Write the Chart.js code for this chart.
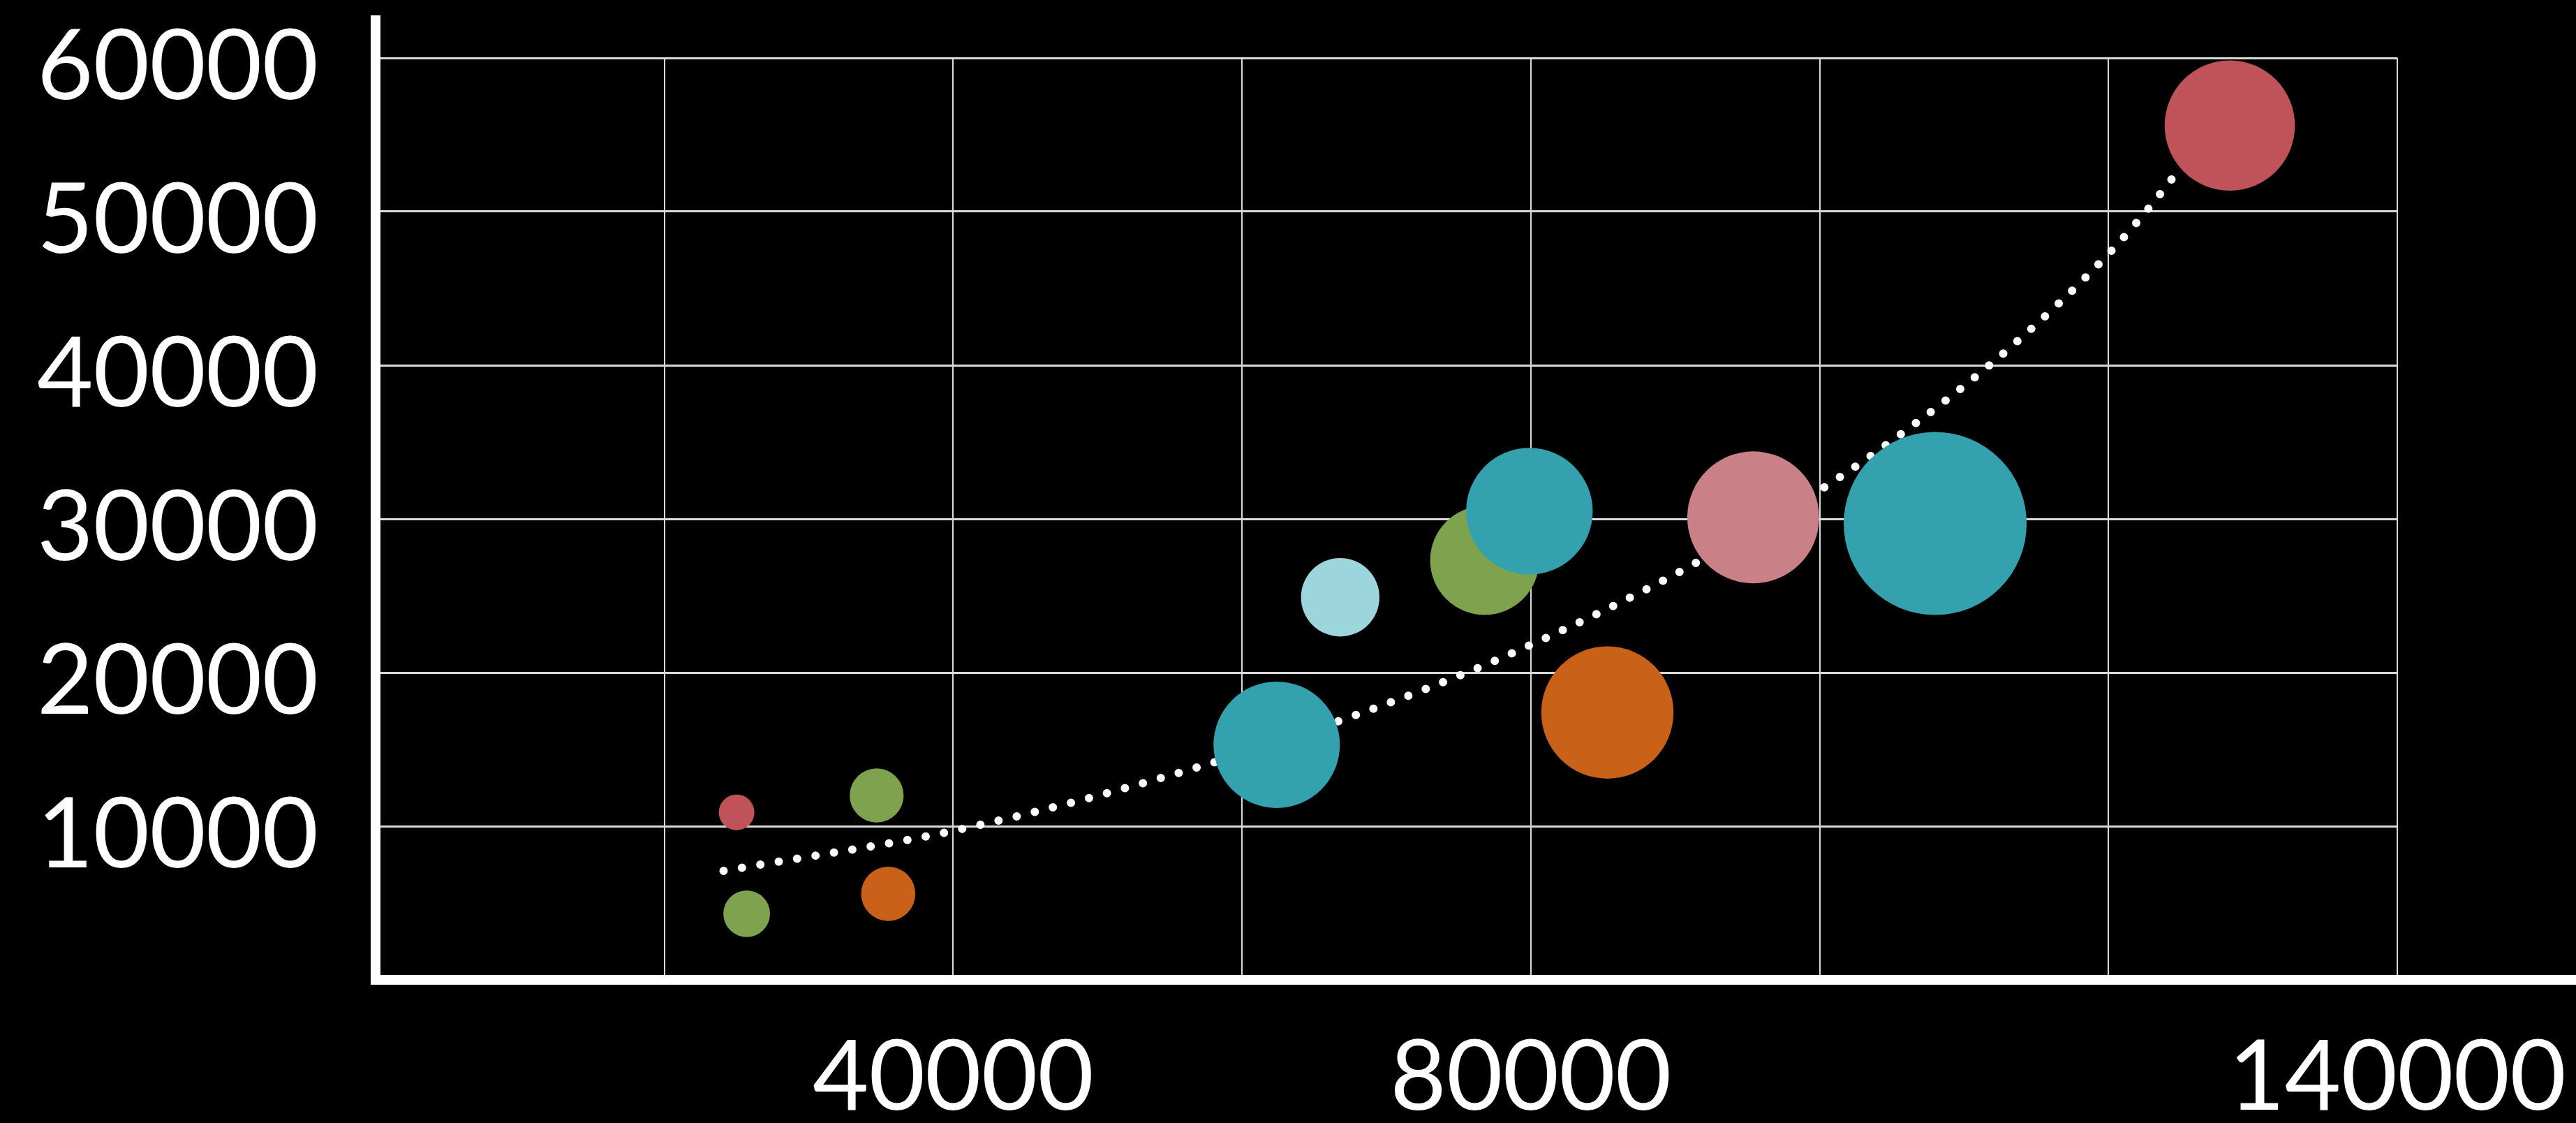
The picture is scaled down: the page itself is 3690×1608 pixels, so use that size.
<!DOCTYPE html>
<html>
<head>
<meta charset="utf-8">
<script src="https://cdn.jsdelivr.net/npm/chart.js@4.4.0/dist/chart.umd.min.js"></script>
<style>
html,body{margin:0;padding:0;background:#000;overflow:hidden}
#wrap{width:3690px;height:1608px;position:relative;background:#000}
</style>
</head>
<body>
<div id="wrap"><canvas id="c"></canvas></div>
<script>
// ---- data ----
const bubbleX     = [25000, 25700, 34700, 35500, 62400, 66800, 76800, 79900, 85300, 95400, 108000, 128400];
const bubbleY     = [10900,  4300, 12000,  5600, 15300, 24900, 27300, 30500, 17400, 30100,  29700,  55600];
const bubbleSize  = [  3.8,   6.5,   8.7,   8.8,  47.7,  18.4,  35.5,  47.9,  52.3,  52.0,    100,   50.7];
const bubbleGroup = ['red','green','green','orange','teal','lightblue','green','teal','orange','pink','teal','red'];

const trendX = [24100, 40800, 57200, 68400, 75700, 80500, 85200, 91000, 100000, 106400, 111600, 116500, 120200, 122800, 124400];
const trendY = [ 7090,  9860, 13910, 17410, 20050, 22020, 24100, 26910,  31860,  36050,  39880,  43970,  47450,  50230,  52140];

const xTickLabels = [40000, 80000, 140000];
const yTickLabels = [10000, 20000, 30000, 40000, 50000, 60000];

// ---- styles ----
const palette = {
  red: '#C0535A', green: '#7FA24F', orange: '#C96119',
  teal: '#34A1AE', lightblue: '#9CD5DC', pink: '#C98087'
};
const MAX_R = 131;
const maxSize = Math.max(...bubbleSize);
const FONT = {family: 'Lato, "Open Sans", sans-serif', size: 139};

const bubbleData = bubbleX.map((x, i) => ({
  x: x, y: bubbleY[i], r: MAX_R * Math.sqrt(bubbleSize[i] / maxSize)
}));
const trendData = trendX.map((x, i) => ({x: x, y: trendY[i]}));

const axisLines = {
  id: 'axisLines',
  afterDraw(chart) {
    const {ctx, chartArea: a, width} = chart;
    ctx.save();
    ctx.strokeStyle = '#ffffff';
    ctx.lineWidth = 14;
    ctx.lineCap = 'butt';
    ctx.beginPath();
    ctx.moveTo(a.left, a.top - 61);
    ctx.lineTo(a.left, a.bottom + 7);
    ctx.stroke();
    ctx.beginPath();
    ctx.moveTo(a.left - 7, a.bottom);
    ctx.lineTo(width, a.bottom);
    ctx.stroke();
    ctx.restore();
  }
};

new Chart(document.getElementById('c'), {
  type: 'bubble',
  data: {
    datasets: [
      {
        type: 'bubble',
        label: 'Bubbles',
        data: bubbleData,
        backgroundColor: bubbleGroup.map(g => palette[g]),
        borderWidth: 0,
        hoverBorderWidth: 0,
        order: 0
      },
      {
        type: 'line',
        label: 'Trend',
        data: trendData,
        borderColor: '#ffffff',
        borderWidth: 12,
        borderDash: [0, 26.7],
        borderCapStyle: 'round',
        pointRadius: 0,
        fill: false,
        cubicInterpolationMode: 'monotone',
        order: 1
      }
    ]
  },
  options: {
    responsive: true,
    maintainAspectRatio: false,
    devicePixelRatio: 1,
    animation: false,
    events: [],
    layout: {autoPadding: false, padding: {top: 83, right: 256, bottom: 0, left: 0}},
    plugins: {legend: {display: false}, tooltip: {enabled: false}},
    scales: {
      x: {
        type: 'linear',
        position: 'bottom',
        min: 0, max: 140000,
        border: {display: false},
        grid: {color: '#d9d9d9', lineWidth: 2, drawTicks: false},
        ticks: {
          stepSize: 20000, autoSkip: false, maxRotation: 0, minRotation: 0,
          color: '#ffffff', font: FONT, padding: 58,
          callback: v => xTickLabels.includes(v) ? String(v) : ''
        },
        afterFit: s => { s.height = 205; s.paddingLeft = 0; s.paddingRight = 0; }
      },
      y: {
        type: 'linear',
        position: 'left',
        min: 0, max: 60000,
        border: {display: false},
        grid: {color: '#d9d9d9', lineWidth: 3, drawTicks: false},
        ticks: {
          stepSize: 10000, autoSkip: false, labelOffset: 14,
          color: '#ffffff', font: FONT, padding: 82,
          callback: v => yTickLabels.includes(v) ? String(v) : ''
        },
        afterFit: s => { s.width = 538; s.paddingTop = 0; s.paddingBottom = 0; }
      }
    }
  },
  plugins: [axisLines]
});
</script>
</body>
</html>
